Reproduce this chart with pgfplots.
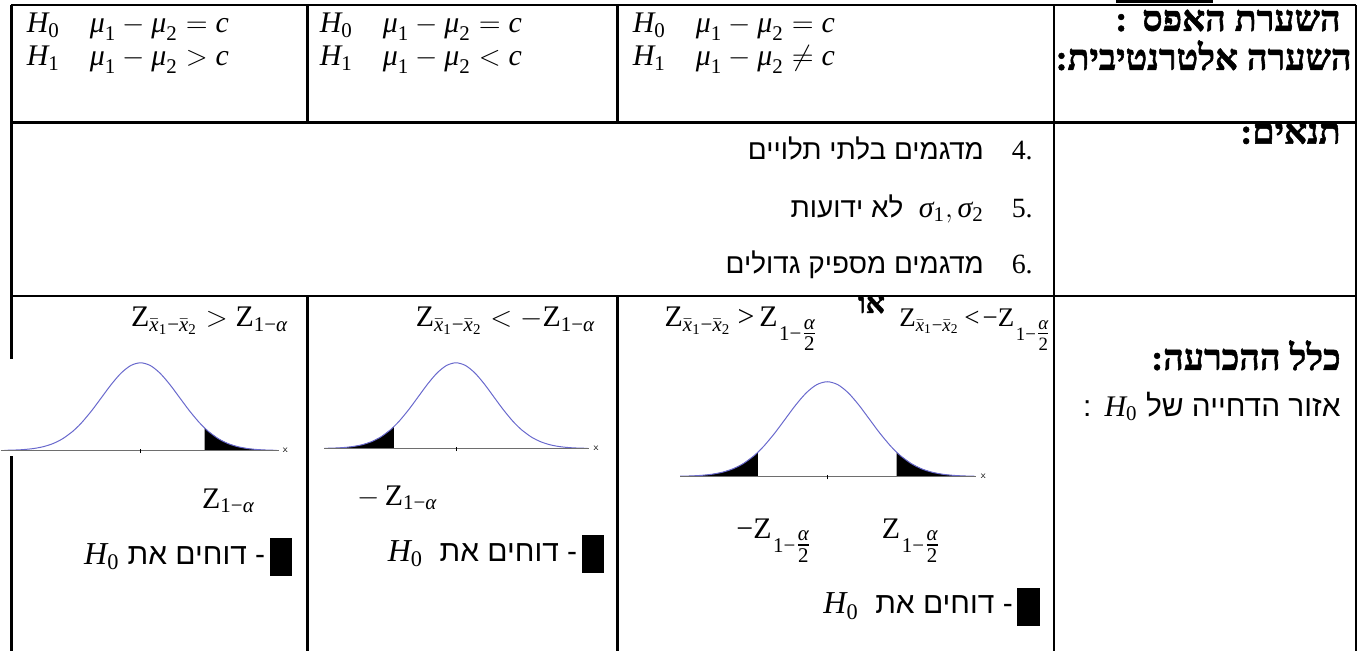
\documentclass[border=0pt]{standalone}
\usepackage{pgfplots}
\pgfplotsset{compat=1.18}
\usepackage{pgfplotstable}
\usepackage{amsmath}
\usepackage{fontspec}
\setmainfont{Liberation Serif}
\newfontfamily\heb[Script=Hebrew]{Liberation Sans}
\newfontfamily\hebserif[Script=Hebrew, BoldFeatures={FakeBold=1.5}]{Liberation Serif}
\TeXXeTstate=1
\definecolor{curveblue}{RGB}{105,105,205}
\definecolor{baseg}{RGB}{110,110,110}

% standard normal density
\pgfplotstableread{
x y
-3.5 0.00087
-3.25 0.00203
-3 0.00443
-2.75 0.00909
-2.5 0.01753
-2.25 0.03174
-2 0.05399
-1.75 0.08628
-1.65 0.10226
-1.5 0.12952
-1.25 0.18265
-1 0.24197
-0.75 0.30114
-0.5 0.35207
-0.25 0.38667
0 0.39894
0.25 0.38667
0.5 0.35207
0.75 0.30114
1 0.24197
1.25 0.18265
1.5 0.12952
1.65 0.10226
1.75 0.08628
2 0.05399
2.25 0.03174
2.5 0.01753
2.75 0.00909
3 0.00443
3.25 0.00203
3.5 0.00087
}\normcurve

\pgfplotsset{normax/.style={scale only axis, axis lines=none, xmin=-3.5, xmax=3.5,
  ymin=0, ymax=0.39894, clip=false, anchor=south west}}

\newcommand{\ti}[1]{\text{\rmfamily\itshape #1}}
\newcommand{\tu}[1]{\text{\rmfamily\upshape #1}}
\newcommand{\Ho}{\ti{H}_{\tu{0}}}
\newcommand{\Hi}{\ti{H}_{\tu{1}}}
\newcommand{\mud}{\ti{μ}_{\tu{1}}-\ti{μ}_{\tu{2}}}
\newcommand{\Zd}{\tu{Z}_{\bar{\ti{x}}_{\tu{1}}\tu{−}\bar{\ti{x}}_{\tu{2}}}}
\newcommand{\Za}{\tu{Z}_{\tu{1}\tu{−}\ti{α}}}
\newcommand{\Zh}{\tu{Z}\mkern1mu\raisebox{-7pt}{$\scriptstyle\tu{1}\tu{−}\genfrac{}{}{}{1}{\ti{α}}{\tu{2}}$}}

\begin{document}
\begin{tikzpicture}
\begin{scope}[x=0.5pt,y=-0.5pt]
\path[use as bounding box] (0,0) rectangle (1363,653);

% table rules
\begin{scope}[line width=1.1pt]
\draw (7,5) -- (1356,5);
\draw (7,5) -- (7,653);
\draw (1356,5) -- (1356,653);
\draw (7,123) -- (1356,123);
\draw (7,297) -- (1356,297);
\draw (304,5) -- (304,123);
\draw (304,297) -- (304,653);
\draw (615,5) -- (615,123);
\draw (615,297) -- (615,653);
\draw (1053,5) -- (1053,653);
\draw (1115,1.5) -- (1212,1.5);
\end{scope}
\fill[white] (0,360) rectangle (283,458);

% row 1
\begin{scope}[every node/.style={font=\fontsize{15}{18}\selectfont, inner sep=0pt}]
\node[anchor=base west] at (22,33) {$\Ho\quad \mud=\ti{c}$};
\node[anchor=base west] at (22,66) {$\Hi\quad \mud>\ti{c}$};
\node[anchor=base west] at (316,33) {$\Ho\quad \mud=\ti{c}$};
\node[anchor=base west] at (316,66) {$\Hi\quad \mud<\ti{c}$};
\node[anchor=base west] at (630,33) {$\Ho\quad \mud=\ti{c}$};
\node[anchor=base west] at (630,66) {$\Hi\quad \mud\neq \ti{c}$};
\end{scope}
\begin{scope}[every node/.style={font=\hebserif\bfseries\fontsize{18}{21}\selectfont, inner sep=0pt}]
\node[anchor=base east] at (1341,31) {\beginR השערת האפס \,:\endR};
\node[anchor=base east] at (1352,70) {\beginR השערה אלטרנטיבית:\endR};
\node[anchor=base east] at (1341,144) {\beginR תנאים:\endR};
\node[anchor=base east] at (1341,371) {\beginR כלל ההכרעה:\endR};
\end{scope}
\node[font=\hebserif\bfseries\fontsize{15}{18}\selectfont, inner sep=0pt, anchor=base west] at (856,314) {\beginR או\endR};

% row 2
\begin{scope}[every node/.style={font=\heb\fontsize{14}{17}\selectfont, inner sep=0pt}]
\node[anchor=base east] at (983,160) {\beginR מדגמים בלתי תלויים\endR};
\node[anchor=base east] at (983,218) {\beginR \mbox{\fontsize{15}{18}\selectfont$\ti{σ}_{\tu{1}},\ti{σ}_{\tu{2}}$}\ \ לא ידועות\endR};
\node[anchor=base east] at (983,274) {\beginR מדגמים מספיק גדולים\endR};
\end{scope}
\node[font=\heb\fontsize{15}{18}\selectfont, inner sep=0pt, anchor=base east] at (1341,418) {\beginR אזור הדחייה של \mbox{\fontsize{15}{18}\selectfont$\Ho$} \,:\endR};
\begin{scope}[every node/.style={font=\fontsize{14}{17}\selectfont, inner sep=0pt}]
\node[anchor=base east] at (1032,160) {\beginR 4.\endR};
\node[anchor=base east] at (1032,218) {\beginR 5.\endR};
\node[anchor=base east] at (1032,274) {\beginR 6.\endR};
\end{scope}

% row 3 formulas
\begin{scope}[every node/.style={font=\fontsize{15}{18}\selectfont, inner sep=0pt}]
\node[anchor=base east] at (285,328) {$\Zd > \Za$};
\node[anchor=base east] at (593,328) {$\Zd < -\Za$};
\node[anchor=base west] at (662,328) {$\Zd\mkern4mu\tu{>}\mkern3mu\Zh$};
\node[anchor=base west] at (734,540) {$\tu{−}\Zh$};
\node[anchor=base west] at (880,540) {$\Zh$};
\node[anchor=base west] at (198,510) {$\Za$};
\node[anchor=base west] at (354,507) {$-\,\Za$};
\end{scope}
\node[font=\fontsize{13.5}{16}\selectfont, inner sep=0pt, anchor=base east] at (1050,328) {$\Zd\mkern3mu\tu{<}\mkern2mu\tu{−}\Zh$};

% legends
\fill (266,540) rectangle (288,578);
\fill (579,537) rectangle (601,575);
\fill (1016,590) rectangle (1039,628);
\begin{scope}[every node/.style={font=\heb\fontsize{15}{18}\selectfont, inner sep=0pt}]
\node[anchor=base east] at (262,566) {\beginR - דוחים את \mbox{\fontsize{16}{18}\selectfont$\Ho$}\endR};
\node[anchor=base east] at (575,563) {\beginR - דוחים את \ \mbox{\fontsize{16}{18}\selectfont$\Ho$}\endR};
\node[anchor=base east] at (1012,616) {\beginR - דוחים את \ \mbox{\fontsize{16}{18}\selectfont$\Ho$}\endR};
\end{scope}
\end{scope}

% curve 1: right tail
\begin{axis}[normax, at={(0pt,-226pt)}, width=136.5pt, height=44pt]
\addplot[fill=black, draw=none, restrict x to domain=1.65:3.5] table {\normcurve} \closedcycle;
\addplot[draw=curveblue, line width=0.5pt, smooth] table {\normcurve};
\addplot[draw=baseg, line width=0.6pt] coordinates {(-3.6,0) (3.55,0)};
\addplot[draw=black, line width=0.4pt] coordinates {(0,-0.012) (0,0.008)};
\node[anchor=west, font=\sffamily\fontsize{5}{5}\selectfont, inner sep=1pt] at (axis cs:3.6,0) {x};
\end{axis}

% curve 2: left tail
\begin{axis}[normax, at={(160.5pt,-225pt)}, width=132pt, height=43pt]
\addplot[fill=black, draw=none, restrict x to domain=-3.5:-1.65] table {\normcurve} \closedcycle;
\addplot[draw=curveblue, line width=0.5pt, smooth] table {\normcurve};
\addplot[draw=baseg, line width=0.6pt] coordinates {(-3.5,0) (3.55,0)};
\addplot[draw=black, line width=0.4pt] coordinates {(0,-0.012) (0,0.008)};
\node[anchor=west, font=\sffamily\fontsize{5}{5}\selectfont, inner sep=1pt] at (axis cs:3.6,0) {x};
\end{axis}

% curve 3: both tails
\begin{axis}[normax, at={(339pt,-239pt)}, width=147.5pt, height=47.5pt]
\addplot[fill=black, draw=none, restrict x to domain=-3.5:-1.65] table {\normcurve} \closedcycle;
\addplot[fill=black, draw=none, restrict x to domain=1.65:3.5] table {\normcurve} \closedcycle;
\addplot[draw=curveblue, line width=0.5pt, smooth] table {\normcurve};
\addplot[draw=baseg, line width=0.6pt] coordinates {(-3.5,0) (3.55,0)};
\addplot[draw=black, line width=0.4pt] coordinates {(0,-0.012) (0,0.008)};
\node[anchor=west, font=\sffamily\fontsize{5}{5}\selectfont, inner sep=1pt] at (axis cs:3.6,0) {x};
\end{axis}
\end{tikzpicture}
\end{document}
